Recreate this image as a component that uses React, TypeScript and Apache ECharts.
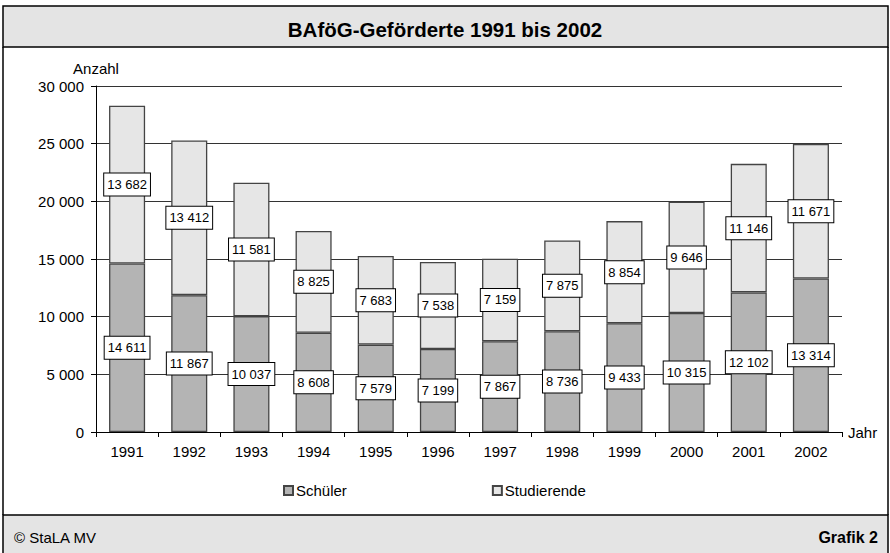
import React, { useEffect, useRef } from "react";
import * as echarts from "echarts";

const years = ["1991", "1992", "1993", "1994", "1995", "1996", "1997", "1998", "1999", "2000", "2001", "2002"];
const schueler = [14611, 11867, 10037, 8608, 7579, 7199, 7867, 8736, 9433, 10315, 12102, 13314];
const studierende = [13682, 13412, 11581, 8825, 7683, 7538, 7159, 7875, 8854, 9646, 11146, 11671];
const yTicks = [0, 5000, 10000, 15000, 20000, 25000, 30000];

const FONT = "'Liberation Sans', Arial, sans-serif";
const fmt = (v: number) => String(v).replace(/\B(?=(\d{3})+(?!\d))/g, " ");

export default function App() {
  const ref = useRef<HTMLDivElement>(null);
  useEffect(() => {
    document.body.style.margin = "0";
    const chart = echarts.init(ref.current!, null, { renderer: "svg" });
    const label = {
      show: true,
      position: "inside",
      formatter: (p: any) => fmt(p.value),
      color: "#000",
      fontFamily: FONT,
      fontSize: 13,
      backgroundColor: "#fff",
      borderColor: "#000",
      borderWidth: 1,
      padding: [5, 3, 4, 3],
    };
    chart.setOption({
      animation: false,
      backgroundColor: "#fff",
      textStyle: { fontFamily: FONT },
      grid: { left: 96, right: 48, top: 86, bottom: 121 },
      legend: {
        bottom: 50,
        left: 278,
        itemGap: 145,
        itemWidth: 9,
        itemHeight: 9,
        icon: "rect",
        textStyle: { fontFamily: FONT, fontSize: 15, color: "#000", padding: [0, 0, 0, -2] },
        data: ["Schüler", "Studierende"],
      },
      xAxis: {
        type: "category",
        data: years,
        name: "Jahr",
        nameLocation: "end",
        nameGap: 6,
        nameTextStyle: { fontFamily: FONT, fontSize: 15, color: "#000" },
        axisLine: { lineStyle: { color: "#000", width: 1 } },
        axisTick: { show: true, alignWithLabel: false, length: 5, lineStyle: { color: "#000" } },
        axisLabel: { fontFamily: FONT, fontSize: 15, color: "#000", margin: 12 },
      },
      yAxis: {
        type: "value",
        min: 0,
        max: 30000,
        interval: 5000,
        name: "Anzahl",
        nameLocation: "end",
        nameGap: 10,
        nameTextStyle: { fontFamily: FONT, fontSize: 15, color: "#000", align: "center" },
        axisLine: { show: true, lineStyle: { color: "#000", width: 1 } },
        axisTick: { show: true, length: 5, lineStyle: { color: "#000" } },
        axisLabel: {
          fontFamily: FONT,
          fontSize: 15,
          color: "#000",
          margin: 12,
          formatter: (v: number) => (yTicks.includes(v) ? fmt(v) : ""),
        },
        splitLine: { show: true, lineStyle: { color: "#333", width: 1 } },
      },
      series: [
        {
          name: "Schüler",
          type: "bar",
          stack: "a",
          data: schueler,
          barWidth: "58%",
          itemStyle: { color: "#b4b4b4", borderColor: "#444", borderWidth: 1.3 },
          label,
        },
        {
          name: "Studierende",
          type: "bar",
          stack: "a",
          data: studierende,
          barWidth: "58%",
          itemStyle: { color: "#e6e6e6", borderColor: "#444", borderWidth: 1.3 },
          label,
        },
      ],
      graphic: [
        {
          type: "rect",
          shape: { x: 3, y: 6, width: 885, height: 41 },
          style: { fill: "#e4e4e4", stroke: "#000", lineWidth: 1.5 },
          z: -10,
        },
        {
          type: "rect",
          shape: { x: 3, y: 515, width: 885, height: 40 },
          style: { fill: "#e4e4e4", stroke: "#000", lineWidth: 1.5 },
          z: -10,
        },
        {
          type: "line",
          shape: { x1: 3, y1: 47, x2: 3, y2: 515 },
          style: { stroke: "#000", lineWidth: 1.5 },
        },
        {
          type: "line",
          shape: { x1: 888, y1: 47, x2: 888, y2: 515 },
          style: { stroke: "#000", lineWidth: 1.5 },
        },
        {
          type: "text",
          x: 445,
          y: 29,
          style: {
            text: "BAföG-Geförderte 1991 bis 2002",
            fontFamily: FONT,
            fontSize: 20.5,
            fontWeight: "bold",
            fill: "#000",
            textAlign: "center",
            textVerticalAlign: "middle",
          },
        },
        {
          type: "text",
          x: 14,
          y: 537,
          style: {
            text: "© StaLA MV",
            fontFamily: FONT,
            fontSize: 15,
            fill: "#000",
            textAlign: "left",
            textVerticalAlign: "middle",
          },
        },
        {
          type: "text",
          x: 878,
          y: 537,
          style: {
            text: "Grafik 2",
            fontFamily: FONT,
            fontSize: 16,
            fontWeight: "bold",
            fill: "#000",
            textAlign: "right",
            textVerticalAlign: "middle",
          },
        },
      ],
    });
    return () => chart.dispose();
  }, []);
  return <div ref={ref} style={{ width: 890, height: 553 }} />;
}
